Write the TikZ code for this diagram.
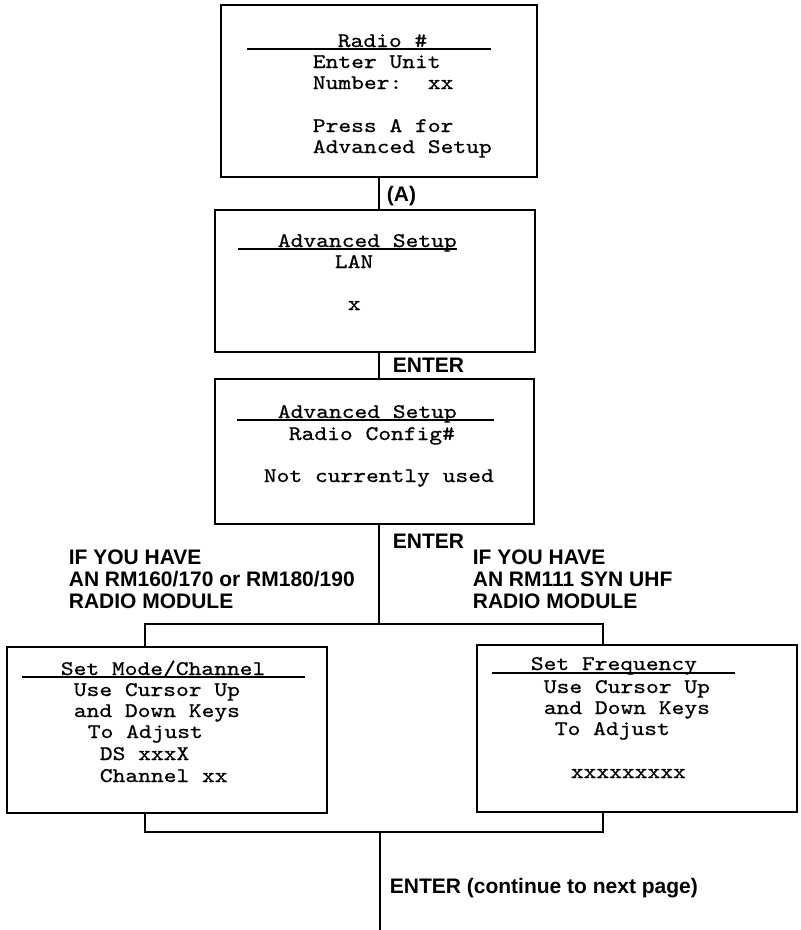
\documentclass[tikz,border=0pt]{standalone}
\usepackage{fontspec}
\newfontfamily\scrfont{lmmono10-regular}[Extension=.otf,FakeStretch=1.17,FakeBold=0.6]
\newfontfamily\lblfont{Liberation Sans}
\begin{document}
\begin{tikzpicture}[x=1pt,y=-1pt,
  every path/.style={line width=1.7pt},
  screen/.style={draw, line width=1.7pt, inner sep=0pt, outer sep=0pt},
  scr/.style={anchor=base west, inner sep=0pt, text height=14pt, text depth=5pt,
    font=\scrfont\fontsize{20.8}{21}\selectfont},
  lbl/.style={anchor=base west, inner sep=0pt, font=\lblfont\bfseries\fontsize{21}{24}\selectfont},
  uline/.style={line width=1.7pt}]
\useasboundingbox (0,0) rectangle (801,930);

% boxes
\node[screen, minimum width=316pt, minimum height=172pt] (b1) at (379,91) {};
\node[screen, minimum width=320pt, minimum height=142pt] (b2) at (375,281) {};
\node[screen, minimum width=319pt, minimum height=145pt] (b3) at (374.5,451.5) {};
\node[screen, minimum width=320pt, minimum height=166pt] (bl) at (167,730) {};
\node[screen, minimum width=320pt, minimum height=167pt] (br) at (637,728.5) {};

% box 1 text
\node[scr] (t1a) at (337,47) {Radio \#};
\draw[uline] (247,49) -- (491,49);
\node[scr] (t1b) at (312,68) {Enter Unit};
\node[scr] (t1c) at (312,89) {Number:\ \ xx};
\node[scr] (t1d) at (312,132) {Press A for};
\node[scr] (t1e) at (312,153) {Advanced Setup};

% box 2 text
\node[scr] (t2a) at (277,247) {Advanced Setup};
\draw[uline] (238,249) -- (457,249);
\node[scr] (t2b) at (334,268) {LAN};
\node[scr] (t2c) at (347,310) {x};

% box 3 text
\node[scr] (t3a) at (277,418) {Advanced Setup};
\draw[uline] (237,420) -- (494,420);
\node[scr] (t3b) at (288,440) {Radio Config\#};
\node[scr] (t3c) at (263,482) {Not currently used};

% left box text
\node[scr] (tla) at (60,675) {Set Mode/Channel};
\draw[uline] (22,677) -- (305,677);
\node[scr] (tlb) at (73,696) {Use Cursor Up};
\node[scr] (tlc) at (73,717) {and Down Keys};
\node[scr] (tld) at (87,738) {To Adjust};
\node[scr] (tle) at (99,760) {DS xxxX};
\node[scr] (tlf) at (99,782) {Channel xx};

% right box text
\node[scr] (tra) at (530,670) {Set Frequency};
\draw[uline] (492,673) -- (735,673);
\node[scr] (trb) at (543,693) {Use Cursor Up};
\node[scr] (trc) at (543,714) {and Down Keys};
\node[scr] (trd) at (554,735) {To Adjust};
\node[scr] (tre) at (570,778) {xxxxxxxxx};

% connectors
\coordinate (jt) at (379,624);
\coordinate (jl) at (145,624);
\coordinate (jr) at (603,624);
\coordinate (kl) at (145,832);
\coordinate (kr) at (603,832);
\coordinate (km) at (380,832);
\coordinate (kend) at (380,930);

\draw (b1.south) -- (b1.south |- b2.north);
\draw (b1.south |- b2.south) -- (b1.south |- b3.north);
\draw (b1.south |- b3.south) -- (jt);
\draw (jl |- bl.north) -- (jl) -- (jr) -- (jr |- br.north);
\draw (kl |- bl.south) -- (kl) -- (kr) -- (kr |- br.south);
\draw (km) -- (kend);

% labels
\node[lbl] (la) at (386,201) {(A)};
\node[lbl] (le1) at (392,372) {ENTER};
\node[lbl] (le2) at (392,548) {ENTER};
\node[lbl, align=left, anchor=north west] (lleft) at (68,549) {IF YOU HAVE\\[-2pt]AN RM160/170 or RM180/190\\[-2pt]RADIO MODULE};
\node[lbl, align=left, anchor=north west] (lright) at (472,549) {IF YOU HAVE\\[-2pt]AN RM111 SYN UHF\\[-2pt]RADIO MODULE};
\node[lbl] (lend) at (389,893) {ENTER (continue to next page)};
\end{tikzpicture}
\end{document}
